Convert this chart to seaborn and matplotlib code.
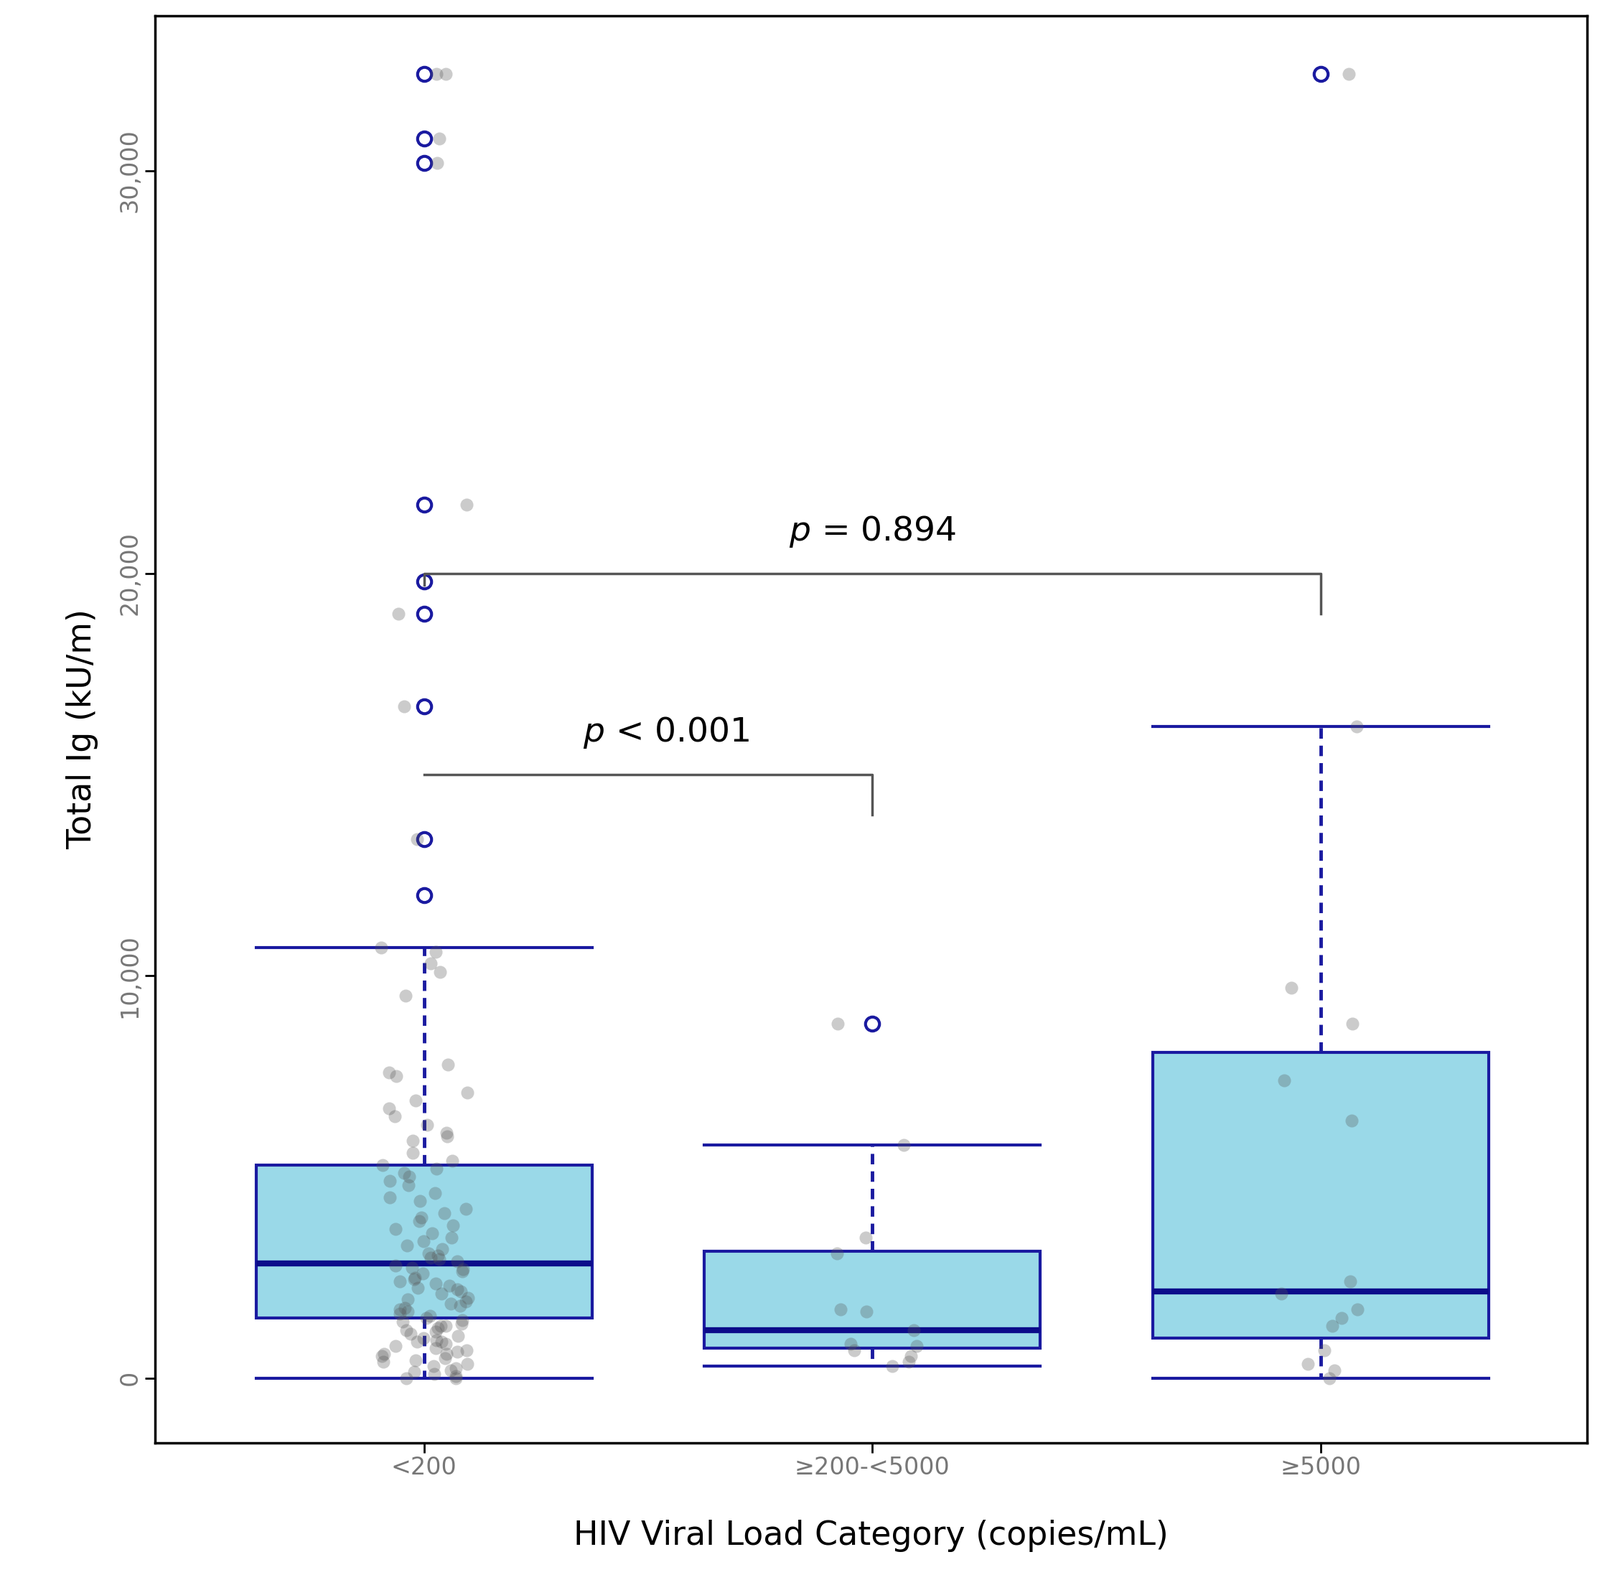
import matplotlib
matplotlib.use("Agg")
import matplotlib.pyplot as plt
import seaborn as sns
import pandas as pd
import numpy as np
from matplotlib.ticker import FuncFormatter

categories = ["<200", "≥200-<5000", "≥5000"]
# box statistics: whislo, q1, med, q3, whishi
box_stats = {
    "<200": [0, 1500, 2850, 5300, 10700],
    "≥200-<5000": [300, 750, 1200, 3150, 5800],
    "≥5000": [0, 1000, 2150, 8100, 16200],
}
outliers = {
    "<200": [12000, 13400, 16700, 19000, 19800, 21700, 30200, 30800, 32400],
    "≥200-<5000": [8800],
    "≥5000": [32400],
}
points_low = [32400, 32400, 30800, 30200, 21700, 19000, 16700, 13400, 10700, 10600, 10300, 10100,
              9500, 7800, 7600, 7500, 7100, 6900, 6700, 6500, 6300, 6100, 6000, 5900, 5600, 5400,
              5300, 5100, 5000, 4900, 4800, 4600, 4500, 4400, 4200, 4000, 3900, 3800, 3700, 3600,
              3500, 3400, 3300, 3200, 3100, 3000, 2950, 2900, 2800, 2700, 2650, 2600, 2500, 2450,
              2400, 2300, 2250, 2200, 2100, 2000, 1950, 1900, 1850, 1800, 1700, 1650, 1600, 1550,
              1500, 1450, 1400, 1350, 1300, 1250, 1200, 1150, 1100, 1050, 1000, 950, 900, 850,
              800, 750, 700, 650, 600, 550, 500, 450, 400, 350, 300, 250, 200, 150, 100, 50, 0, 0,
              2750, 3050, 1750, 2350, 4100, 5200, 900, 1300, 600, 2150]
points_mid = [8800, 5800, 3500, 3100, 1700, 1650, 1200, 850, 800, 700, 550, 400, 300]
points_high = [32400, 16200, 9700, 8800, 7400, 6400, 2400, 2100, 1700, 1500, 1300, 700, 350, 200, 0]
y_ticks = [0, 10000, 20000, 30000]

df = pd.DataFrame({
    "cat": [categories[0]] * len(points_low) + [categories[1]] * len(points_mid) + [categories[2]] * len(points_high),
    "val": points_low + points_mid + points_high,
})

fig = plt.figure(figsize=(22.29, 22.01), dpi=100)
ax = fig.add_axes([0.097, 0.087, 0.895, 0.903])
blue = "#1a1aa0"
stats = []
for c in categories:
    lo, q1, med, q3, hi = box_stats[c]
    stats.append(dict(whislo=lo, q1=q1, med=med, q3=q3, whishi=hi, fliers=outliers[c], label=c))
ax.bxp(stats, positions=[0, 1, 2], widths=0.75, patch_artist=True,
       boxprops=dict(facecolor="#9ad9e8", edgecolor=blue, linewidth=3),
       medianprops=dict(color="#0c0c8a", linewidth=6),
       whiskerprops=dict(color=blue, linewidth=3.5, linestyle=(0, (3, 2))),
       capprops=dict(color=blue, linewidth=3),
       capwidths=0.75,
       flierprops=dict(marker="o", markerfacecolor="none", markeredgecolor=blue, markersize=14, markeredgewidth=3),
       zorder=2)
sns.stripplot(data=df, x="cat", y="val", order=categories, ax=ax, color="#555555", alpha=0.3,
              size=13, jitter=0.1, zorder=3, native_scale=False)

# brackets
g = "#555555"
ax.plot([0, 0, 1, 1], [15000, 15000, 15000, 14000], color=g, lw=2.5)
ax.plot([0, 0, 2, 2], [19700, 20000, 20000, 19000], color=g, lw=2.5)
ax.text(0.54, 15600, "$p$ < 0.001", ha="center", va="bottom", fontsize=34)
ax.text(1.0, 20600, "$p$ = 0.894", ha="center", va="bottom", fontsize=34)

ax.set_xlim(-0.6, 2.595)
ax.set_ylim(-1600, 33850)
ax.set_yticks(y_ticks)
ax.yaxis.set_major_formatter(FuncFormatter(lambda v, p: f"{int(v):,}"))
ax.set_xticks([0, 1, 2])
ax.set_xticklabels(categories)
ax.tick_params(axis="both", labelsize=24, labelcolor="#777777", length=10, width=2)
for lab in ax.get_yticklabels():
    lab.set_rotation(90)
    lab.set_va("center")
for s in ax.spines.values():
    s.set_linewidth(2.5)
ax.set_xlabel("HIV Viral Load Category (copies/mL)", fontsize=33, labelpad=40)
ax.set_ylabel("Total Ig (kU/m)", fontsize=33, labelpad=20)
fig.savefig("out.png", dpi=100)
